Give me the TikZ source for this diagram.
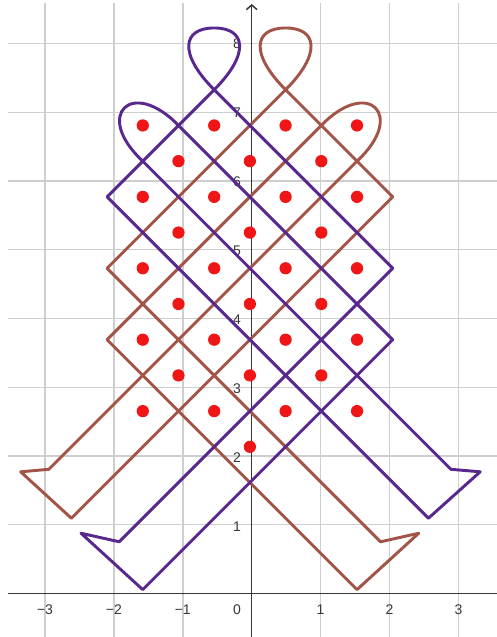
\documentclass[tikz,border=0pt]{standalone}
\usepackage{fontspec}
\setmainfont{Liberation Sans}
\usetikzlibrary{arrows.meta}
\definecolor{knotpurple}{RGB}{88,40,142}
\definecolor{knotbrown}{RGB}{163,84,72}
\definecolor{dotred}{RGB}{240,22,22}
\definecolor{gridgray}{RGB}{206,206,206}
\definecolor{axisgray}{RGB}{55,55,55}
\tikzset{every picture/.style={line width=0.75pt}}
\tikzset{
  gridline/.style={draw=gridgray, line width=1.1pt},
  axisline/.style={draw=axisgray, line width=1.1pt},
  ticklabel/.style={inner sep=0pt, text=axisgray, font=\fontsize{10.5}{12}\selectfont},
  strand/.style={line width=2.2pt, line join=round, line cap=round},
  bead/.style={fill=dotred}
}

\begin{document}
\begin{tikzpicture}[x=0.75pt,y=0.75pt,yscale=-1,xscale=1]
\useasboundingbox (0,0) rectangle (497,637);
\fill[white] (0,0) rectangle (497,637);

%Grid: vertical lines
\draw[gridline] (45,3) -- (45,637);
\draw[gridline] (113.9,3) -- (113.9,637);
\draw[gridline] (182.8,3) -- (182.8,637);
\draw[gridline] (320.6,3) -- (320.6,637);
\draw[gridline] (389.5,3) -- (389.5,637);
\draw[gridline] (458.4,3) -- (458.4,637);
%Grid: horizontal lines
\draw[gridline] (8,524.75) -- (497,524.75);
\draw[gridline] (8,456) -- (497,456);
\draw[gridline] (8,387.25) -- (497,387.25);
\draw[gridline] (8,318.5) -- (497,318.5);
\draw[gridline] (8,249.75) -- (497,249.75);
\draw[gridline] (8,181) -- (497,181);
\draw[gridline] (8,112.25) -- (497,112.25);
\draw[gridline] (8,43.5) -- (497,43.5);

%Axes
\draw[axisline] (8,593.5) -- (497,593.5);
\draw[axisline, -{Straight Barb[length=3.5pt,width=8pt]}] (251.7,637) -- (251.7,4);

% Text Node: x ticks
\node[ticklabel] (xm3) at (45,610) {−3};
\node[ticklabel] (xm2) at (113.9,610) {−2};
\node[ticklabel] (xm1) at (182.8,610) {−1};
\node[ticklabel] (x0) at (237,610) {0};
\node[ticklabel] (x1) at (320.6,610) {1};
\node[ticklabel] (x2) at (389.5,610) {2};
\node[ticklabel] (x3) at (458.4,610) {3};
% Text Node: y ticks
\node[ticklabel] (y1) at (237,526.5) {1};
\node[ticklabel] (y2) at (237,458) {2};
\node[ticklabel] (y3) at (237,388.5) {3};
\node[ticklabel] (y4) at (237,320) {4};
\node[ticklabel] (y5) at (237,251) {5};
\node[ticklabel] (y6) at (237,182) {6};
\node[ticklabel] (y7) at (237,113) {7};
\node[ticklabel] (y8) at (237,44) {8};

%Lattice of the pattern, one step = one half diagonal of a cell
\begin{scope}[shift={(249.9,446.8)}, x=26.78pt, y=-26.78pt]
%Curve: brown strand
\draw[strand, knotbrown] (1,10) -- (-4,5) -- (3.66,-2.66) -- (4.73,-2.42) -- (3,-4) -- (-4,3) -- (2,9)
  .. controls (3.3,10.35) and (4.4,9.3) .. (3,8) -- (-5.63,-0.63) -- (-6.42,-0.70) -- (-5,-2) -- (4,7) -- (1,10)
  .. controls (0,11) and (0.1,11.73) .. (1,11.73) .. controls (1.9,11.73) and (2,11) .. (1,10) -- cycle;
%Curve: purple strand
\draw[strand, knotpurple] (-1,10) -- (4,5) -- (-3.66,-2.66) -- (-4.73,-2.42) -- (-3,-4) -- (4,3) -- (-2,9)
  .. controls (-3.3,10.35) and (-4.4,9.3) .. (-3,8) -- (5.63,-0.63) -- (6.45,-0.70) -- (5,-2) -- (-4,7) -- (-1,10)
  .. controls (0,11) and (-0.1,11.73) .. (-1,11.73) .. controls (-1.9,11.73) and (-2,11) .. (-1,10) -- cycle;

%Dots, row by row from the top
\fill[bead] (-3,9) circle (4.6pt) (-1,9) circle (4.6pt) (1,9) circle (4.6pt) (3,9) circle (4.6pt);
\fill[bead] (-2,8) circle (4.6pt) (0,8) circle (4.6pt) (2,8) circle (4.6pt);
\fill[bead] (-3,7) circle (4.6pt) (-1,7) circle (4.6pt) (1,7) circle (4.6pt) (3,7) circle (4.6pt);
\fill[bead] (-2,6) circle (4.6pt) (0,6) circle (4.6pt) (2,6) circle (4.6pt);
\fill[bead] (-3,5) circle (4.6pt) (-1,5) circle (4.6pt) (1,5) circle (4.6pt) (3,5) circle (4.6pt);
\fill[bead] (-2,4) circle (4.6pt) (0,4) circle (4.6pt) (2,4) circle (4.6pt);
\fill[bead] (-3,3) circle (4.6pt) (-1,3) circle (4.6pt) (1,3) circle (4.6pt) (3,3) circle (4.6pt);
\fill[bead] (-2,2) circle (4.6pt) (0,2) circle (4.6pt) (2,2) circle (4.6pt);
\fill[bead] (-3,1) circle (4.6pt) (-1,1) circle (4.6pt) (1,1) circle (4.6pt) (3,1) circle (4.6pt);
\fill[bead] (0,0) circle (4.6pt);
\end{scope}

\end{tikzpicture}
\end{document}
